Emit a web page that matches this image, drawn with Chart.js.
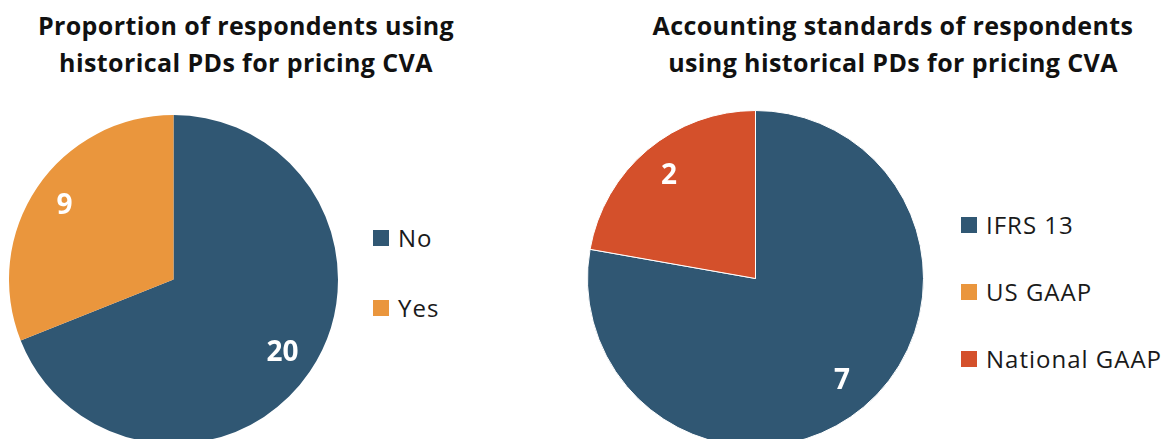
<!DOCTYPE html>
<html>
<head>
<meta charset="utf-8">
<script src="https://cdn.jsdelivr.net/npm/chart.js@4.4.1/dist/chart.umd.min.js"></script>
<style>
  body { margin: 0; width: 1171px; height: 439px; overflow: hidden; background: #fff; position: relative; font-family: "Open Sans", Lato, sans-serif; }
  .title { position: absolute; font-weight: 700; font-size: 25px; letter-spacing: 0.4px; line-height: 37px; text-align: center; color: #111; white-space: nowrap; }
  .pie { position: absolute; }
  .legend { position: absolute; font-size: 24px; letter-spacing: 1px; color: #1a1a1a; }
  .legend .item { position: absolute; left: 0; height: 24px; line-height: 24px; white-space: nowrap; display: flex; align-items: center; }
  .legend .sw { width: 16px; height: 16px; margin-right: 9px; flex: none; }
</style>
</head>
<body>
<div class="title" style="left:0; top:7px; width:492px;">Proportion of respondents using<br>historical PDs for pricing CVA</div>
<div class="title" style="left:647px; top:7px; width:492px;">Accounting standards of respondents<br>using historical PDs for pricing CVA</div>

<canvas id="pieLeft" class="pie" width="329" height="329" style="left:9px; top:115px;"></canvas>
<canvas id="pieRight" class="pie" width="337" height="337" style="left:587px; top:110px;"></canvas>

<div id="legendLeft" class="legend" style="left:373px; top:226px;"></div>
<div id="legendRight" class="legend" style="left:961px; top:213px;"></div>

<script>
// data
const leftLabels = ["No", "Yes"];
const leftValues = [20, 9];
const leftColors = ["#305773", "#EA963D"];

const rightLabels = ["IFRS 13", "US GAAP", "National GAAP"];
const rightValues = [7, 0, 2];
const rightColors = ["#305773", "#EA963D", "#D4502B"];

// white value labels inside each slice
const valueLabels = {
  id: "valueLabels",
  afterDatasetsDraw(chart) {
    const ctx = chart.ctx;
    const meta = chart.getDatasetMeta(0);
    const values = chart.data.datasets[0].data;
    ctx.save();
    ctx.fillStyle = "#fff";
    ctx.font = "bold 28px 'Open Sans', Lato, sans-serif";
    ctx.textAlign = "center";
    ctx.textBaseline = "middle";
    meta.data.forEach((arc, i) => {
      if (!values[i]) return;
      const p = arc.getProps(["x", "y", "startAngle", "endAngle", "outerRadius"], true);
      const mid = (p.startAngle + p.endAngle) / 2;
      const r = p.outerRadius * 0.8;
      ctx.fillText(String(values[i]), p.x + Math.cos(mid) * r, p.y + Math.sin(mid) * r);
    });
    ctx.restore();
  }
};

function makePie(id, labels, values, colors, border) {
  return new Chart(document.getElementById(id), {
    type: "pie",
    data: {
      labels: labels,
      datasets: [{
        data: values,
        backgroundColor: colors,
        borderColor: "#fff",
        borderWidth: border,
        hoverOffset: 0,
        offset: 0
      }]
    },
    options: {
      responsive: false,
      animation: false,
      layout: { padding: 0 },
      plugins: { legend: { display: false }, tooltip: { enabled: false } }
    },
    plugins: [valueLabels]
  });
}

function makeLegend(id, labels, colors, gap) {
  const box = document.getElementById(id);
  labels.forEach((lab, i) => {
    const item = document.createElement("div");
    item.className = "item";
    item.style.top = (i * gap) + "px";
    const sw = document.createElement("span");
    sw.className = "sw";
    sw.style.background = colors[i];
    item.appendChild(sw);
    item.appendChild(document.createTextNode(lab));
    box.appendChild(item);
  });
}

makePie("pieLeft", leftLabels, leftValues, leftColors, 0);
makePie("pieRight", rightLabels, rightValues, rightColors, 1);
makeLegend("legendLeft", leftLabels, leftColors, 70);
makeLegend("legendRight", rightLabels, rightColors, 67);
</script>
</body>
</html>
